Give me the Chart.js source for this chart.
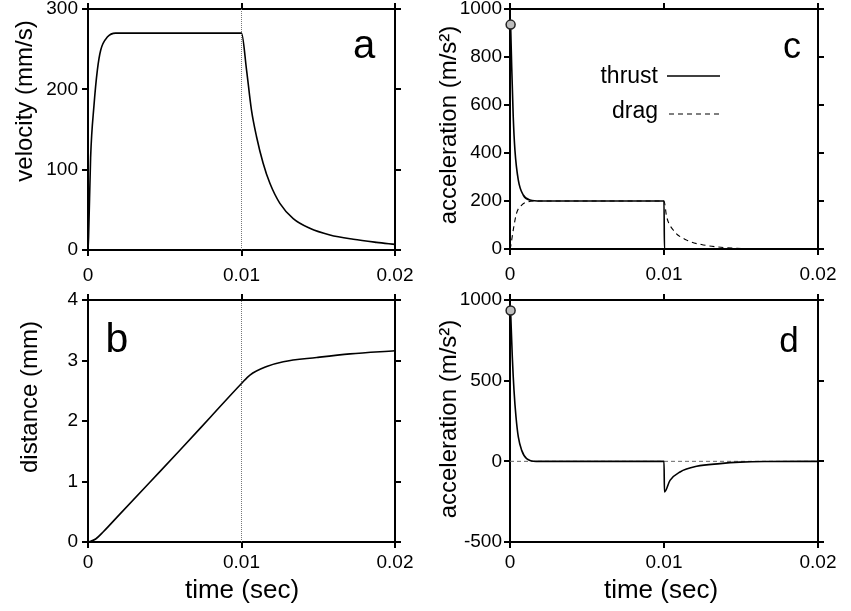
<!DOCTYPE html>
<html>
<head>
<meta charset="utf-8">
<script src="https://cdn.jsdelivr.net/npm/chart.js"></script>
<style>
  body { margin: 0; background: #fff; }
  #wrap { position: relative; width: 851px; height: 611px; overflow: hidden; }
  canvas { position: absolute; }
</style>
</head>
<body>
<div id="wrap">
  <canvas id="panelA" width="420" height="290" style="left:0;top:0"></canvas>
  <canvas id="panelB" width="420" height="321" style="left:0;top:290px"></canvas>
  <canvas id="panelC" width="431" height="290" style="left:420px;top:0"></canvas>
  <canvas id="panelD" width="431" height="321" style="left:420px;top:290px"></canvas>
</div>
<script>
// axis ranges / tick steps
const timeRange = [0, 0.02], timeStep = 0.01;
const velRange = [0, 300], velStep = 100;
const distRange = [0, 4], distStep = 1;
const accRangeC = [0, 1000], accStepC = 200;
const accRangeD = [-500, 1000], accStepD = 500;
const cutoffTime = 0.01;

// a: velocity (mm/s)
const velTime = [0, 0.00004, 0.00017, 0.00039, 0.00061, 0.00083, 0.00126, 0.0018, 0.0023, 0.005, 0.0075, 0.01,
  0.01033, 0.01065, 0.01098, 0.01141, 0.01185, 0.0125, 0.01337, 0.01445, 0.01576, 0.01728, 0.01879, 0.02];
const velocity = [0, 17, 115, 180, 224, 249, 265, 270, 270, 270, 270, 270,
  224, 174, 141, 108, 83, 58, 39, 27, 18.7, 13.3, 9.5, 7];

// b: distance (mm)
const distTime = [0, 0.0005, 0.001, 0.002, 0.004, 0.006, 0.008, 0.01, 0.01055, 0.01164, 0.01272, 0.0149, 0.01707, 0.02];
const distance = [0, 0.05, 0.17, 0.44, 0.98, 1.52, 2.07, 2.62, 2.76, 2.90, 2.98, 3.05, 3.11, 3.16];

// c: thrust and drag (m/s2)
const thrustTime = [0.00004, 0.00011, 0.00021, 0.00032, 0.00054, 0.00086, 0.0013, 0.002, 0.006, 0.01, 0.01003, 0.015, 0.02];
const thrust = [936, 760, 551, 412, 287, 225, 204, 200, 200, 200, 0, 0, 0];
const dragTime = [0, 0.00004, 0.00021, 0.00043, 0.00076, 0.00119, 0.0018, 0.006, 0.01, 0.01017, 0.0106, 0.01147, 0.01255, 0.01472, 0.0165, 0.0187];
const drag = [0, 10, 79, 150, 183, 197, 200, 200, 200, 135, 79, 37, 17, 3, 1, 0];

// d: net acceleration (m/s2)
const netTime = [0.00004, 0.00015, 0.00026, 0.00039, 0.00054, 0.00076, 0.00108, 0.0017, 0.006, 0.01,
  0.01003, 0.01039, 0.01104, 0.01212, 0.01364, 0.01494, 0.0165, 0.02];
const netAccel = [932, 647, 440, 275, 151, 68, 17, 0, 0, 0, -190, -118, -66, -31, -14, -5, -1, 0];

// initial peak (circle marker)
const peakTime = [0.00004];
const peakAccel = [935];

const FONT = "'Liberation Sans', Arial, Helvetica, sans-serif";
Chart.defaults.font.family = FONT;
Chart.defaults.color = '#000';

const pts = (xs, ys) => xs.map((x, i) => ({ x, y: ys[i] }));

// draws panel letters, axis titles and the little legend
const panelText = {
  id: 'panelText',
  afterDraw(chart, args, opts) {
    const ctx = chart.ctx;
    (opts.items || []).forEach(t => {
      ctx.save();
      ctx.font = t.size + 'px ' + FONT;
      ctx.fillStyle = '#000';
      ctx.textAlign = t.align || 'center';
      ctx.textBaseline = t.baseline || 'alphabetic';
      ctx.translate(t.x, t.y);
      if (t.rotate) ctx.rotate(t.rotate);
      ctx.fillText(t.text, 0, 0);
      ctx.restore();
    });
    (opts.lines || []).forEach(l => {
      ctx.save();
      ctx.strokeStyle = '#000';
      ctx.lineWidth = l.width || 1.5;
      ctx.setLineDash(l.dash || []);
      ctx.beginPath();
      ctx.moveTo(l.x1, l.y);
      ctx.lineTo(l.x2, l.y);
      ctx.stroke();
      ctx.restore();
    });
  }
};
Chart.register(panelText);

function axis(position, range, step, size, pad) {
  const horizontal = position === 'top' || position === 'bottom';
  const labels = position === 'left' || position === 'bottom';
  return {
    type: 'linear', position, min: range[0], max: range[1],
    ticks: {
      stepSize: step, display: labels, padding: pad, autoSkip: false, maxRotation: 0,
      font: { size: 19 }, color: '#000',
      callback: v => String(+v.toFixed(3))
    },
    grid: { drawOnChartArea: false, drawTicks: true, tickLength: 6, tickWidth: 2, color: '#000', lineWidth: 2 },
    border: { display: true, color: '#000', width: 2 },
    afterFit: s => {
      if (horizontal) s.height = size; else s.width = size;
      s.paddingTop = s.paddingBottom = s.paddingLeft = s.paddingRight = 0;
    }
  };
}

function scales(yRange, yStep, sz, xPad, yPad) {
  return {
    x: axis('bottom', timeRange, timeStep, sz.bottom, xPad),
    x2: axis('top', timeRange, timeStep, sz.top, 0),
    y: axis('left', yRange, yStep, sz.left, yPad),
    y2: axis('right', yRange, yStep, sz.right, 0)
  };
}

const solid = { borderColor: '#000', borderWidth: 1.6, pointRadius: 0, fill: false, cubicInterpolationMode: 'monotone' };
const peakStyle = { showLine: false, pointRadius: 4.5, pointBackgroundColor: '#bdbdbd', pointBorderColor: '#222', pointBorderWidth: 1.5, clip: false };
const cutoffStyle = { borderColor: '#777', borderWidth: 1, borderDash: [1, 1], pointRadius: 0, tension: 0 };

const base = {
  responsive: false, animation: false,
  layout: { padding: 0 },
  plugins: { legend: { display: false }, tooltip: { enabled: false } }
};

function make(id, datasets, sc, text) {
  return new Chart(document.getElementById(id), {
    type: 'line',
    data: { datasets },
    options: { ...base, scales: sc, plugins: { ...base.plugins, panelText: text } }
  });
}

// a
make('panelA', [
  { ...solid, data: pts(velTime, velocity) },
  { ...cutoffStyle, data: pts([cutoffTime, cutoffTime], velRange) }
], scales(velRange, velStep, { left: 88, top: 9, right: 25, bottom: 40 }, 8, 4), {
  items: [
    { text: 'velocity (mm/s)', x: 25, y: 101, size: 24, rotate: -Math.PI / 2, baseline: 'middle' },
    { text: 'a', x: 364, y: 58, size: 40 }
  ]
});

// b
make('panelB', [
  { ...solid, data: pts(distTime, distance) },
  { ...cutoffStyle, data: pts([cutoffTime, cutoffTime], distRange) }
], scales(distRange, distStep, { left: 88, top: 10, right: 25, bottom: 69 }, 3, 4), {
  items: [
    { text: 'distance (mm)', x: 30, y: 107, size: 24, rotate: -Math.PI / 2, baseline: 'middle' },
    { text: 'time (sec)', x: 242, y: 301, size: 26, baseline: 'middle' },
    { text: 'b', x: 117, y: 62, size: 41 }
  ]
});

// c
make('panelC', [
  { ...peakStyle, data: pts(peakTime, peakAccel) },
  { ...solid, data: pts(thrustTime, thrust) },
  { ...solid, borderWidth: 1.1, borderDash: [5, 4], data: pts(dragTime, drag) }
], scales(accRangeC, accStepC, { left: 90, top: 9, right: 33, bottom: 41 }, 8, 2), {
  items: [
    { text: 'acceleration (m/s\u00b2)', x: 29, y: 125, size: 24, rotate: -Math.PI / 2, baseline: 'middle' },
    { text: 'c', x: 372, y: 58, size: 36 },
    { text: 'thrust', x: 238, y: 83, size: 23, align: 'right' },
    { text: 'drag', x: 238, y: 118, size: 23, align: 'right' }
  ],
  lines: [
    { x1: 247, x2: 300, y: 76, width: 1.6 },
    { x1: 249, x2: 300, y: 114, width: 1.1, dash: [5, 4] }
  ]
});

// d
make('panelD', [
  { ...peakStyle, data: pts(peakTime, peakAccel) },
  { ...solid, data: pts(netTime, netAccel) },
  { borderColor: '#666', borderWidth: 1, borderDash: [4, 3], pointRadius: 0, data: pts(timeRange, [0, 0]) }
], scales(accRangeD, accStepD, { left: 90, top: 10, right: 33, bottom: 69 }, 3, 2), {
  items: [
    { text: 'acceleration (m/s\u00b2)', x: 29, y: 129, size: 24, rotate: -Math.PI / 2, baseline: 'middle' },
    { text: 'time (sec)', x: 241, y: 301, size: 26, baseline: 'middle' },
    { text: 'd', x: 369, y: 62, size: 35 }
  ]
});
</script>
</body>
</html>
